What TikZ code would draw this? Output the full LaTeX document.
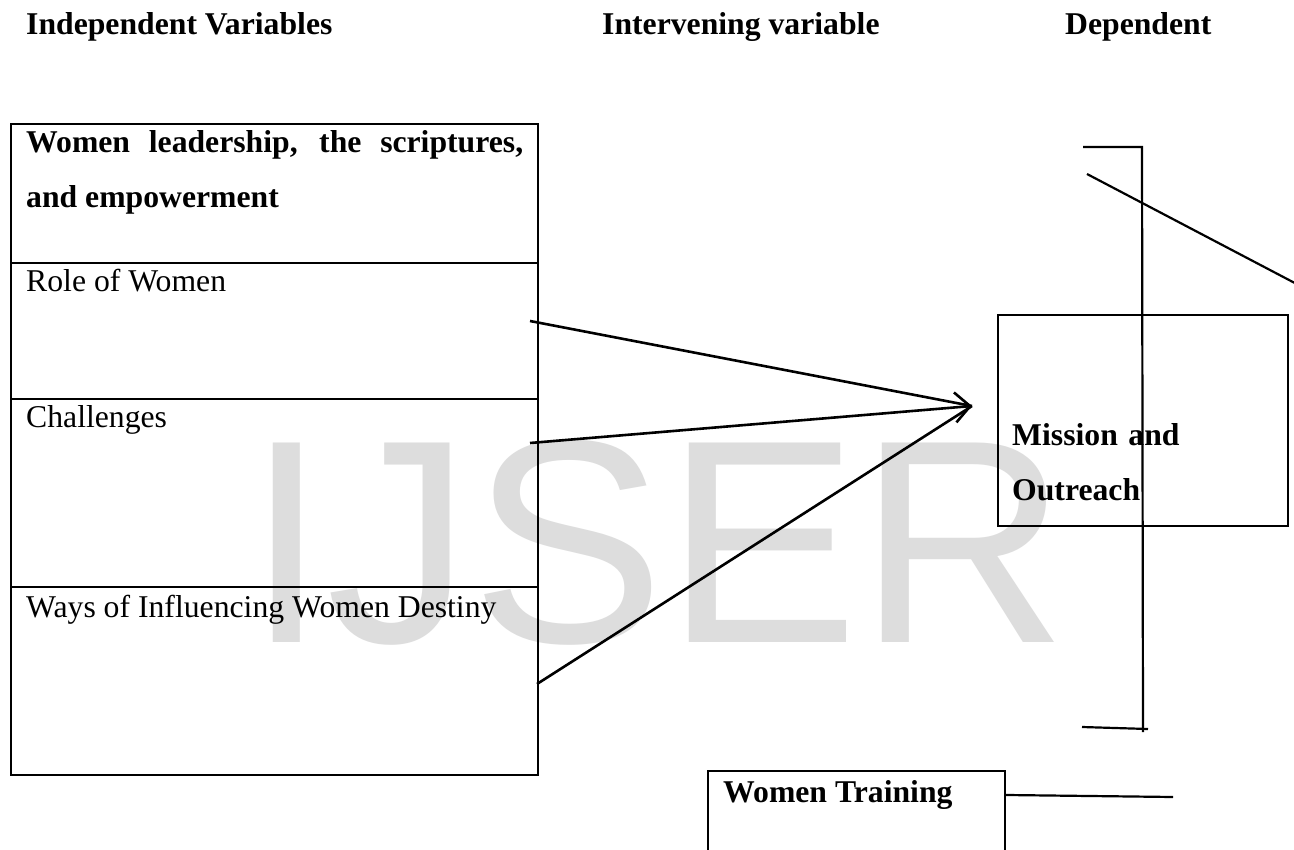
\documentclass[tikz,border=0pt]{standalone}
\usepackage{fontspec}
\setmainfont{Liberation Serif}
\newfontfamily\markfont{Liberation Sans}
\usetikzlibrary{arrows.meta}
\definecolor{markgray}{RGB}{221,221,221}
\newcommand{\bodysize}{\fontsize{31.7}{55}\selectfont}
\tikzset{
  every node/.style={inner sep=0pt, font=\bodysize},
  cell/.style={draw, line width=2.2pt, anchor=north west},
  link/.style={line width=2.6pt},
  rule/.style={line width=2.2pt},
}

\begin{document}
\begin{tikzpicture}[x=1pt,y=-1pt]
\useasboundingbox (0,0) rectangle (1294,850);
\clip (0,0) rectangle (1294,850);
\fill [white] (0,0) rectangle (1294,850);

\node [anchor=base west, text=markgray, font=\markfont\fontsize{290}{290}\selectfont] (mark) at (246,642) {IJSER};

\node [anchor=base west, font=\bodysize\bfseries] (indep) at (26,35) {Independent Variables};
\node [anchor=base west, font=\bodysize\bfseries] (interv) at (602,35) {Intervening variable};
\node [anchor=base west, font=\bodysize\bfseries] (dep) at (1065,35) {Dependent};

\node [cell, minimum width=527pt, minimum height=139pt] (lead) at (10,123) {};
\node [cell, minimum width=527pt, minimum height=136pt] (role) at (10,262) {};
\node [cell, minimum width=527pt, minimum height=188pt] (chall) at (10,398) {};
\node [cell, minimum width=527pt, minimum height=188pt] (ways) at (10,586) {};

\node [anchor=base west, text width=497pt, align=justify, font=\bodysize\bfseries] (lead-txt) at (26,153) {Women leadership, the scriptures, and empowerment};
\node [anchor=base west] (role-txt) at (26,292) {Role of Women};
\node [anchor=base west] (chall-txt) at (26,428) {Challenges};
\node [anchor=base west] (ways-txt) at (26,617) {Ways of Influencing Women Destiny};

\node [cell, minimum width=290pt, minimum height=211pt] (mission) at (997,314) {};
\node [anchor=base west, text width=250pt, align=left, font=\bodysize\bfseries] (mission-txt) at (1012,445) {Mission and\\Outreach};

\node [cell, minimum width=297pt, minimum height=130pt] (train) at (707,770) {};
\node [anchor=base west, font=\bodysize\bfseries] (train-txt) at (723,802) {Women Training};

\coordinate (tip) at (972,406);
\coordinate (role-out) at (530,321);
\coordinate (chall-out) at (530,443);
\coordinate (ways-out) at (537,684);

\draw [link] (role-out) -- (tip);
\draw [link, -{Straight Barb[length=15pt,width=30pt]}] (chall-out) -- (tip);
\draw [link] (ways-out) -- (tip);

\draw [rule] (1083,147) -- (1142,147) -- (1143,732);
\draw [rule] (1082,727) -- (1148,729);
\draw [rule] (1087,174) -- (1310,291);

\coordinate (train-end) at (1173,797);
\draw [rule] ([yshift=-25pt]train.north east) -- (train-end);

\end{tikzpicture}
\end{document}
